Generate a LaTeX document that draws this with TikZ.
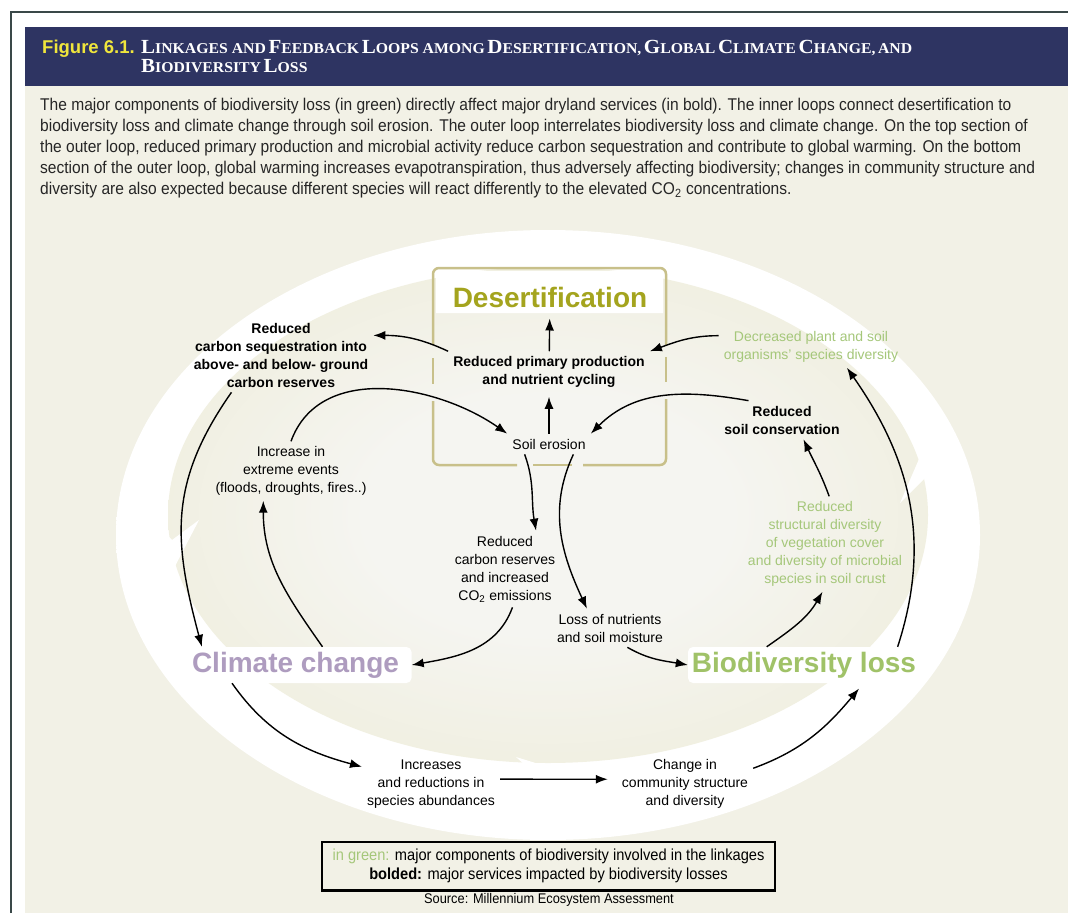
\documentclass[tikz,border=0pt]{standalone}
\usepackage{fontspec}
\setmainfont{Liberation Sans}
\newfontfamily\capfont[FakeStretch=0.915]{Liberation Sans}
\newfontfamily\ttlfont[FakeStretch=1.05]{Liberation Serif}
\usepackage{tikz}
\usetikzlibrary{arrows.meta}

\definecolor{bg}{HTML}{F2F1E6}
\definecolor{inbg}{HTML}{EEECD8}
\definecolor{inc}{HTML}{F5F5F1}
\definecolor{framec}{HTML}{3A4848}
\definecolor{navy}{HTML}{2E3462}
\definecolor{yel}{HTML}{F0E63C}
\definecolor{olive}{HTML}{A4A41E}
\definecolor{boxc}{HTML}{C8C08A}
\definecolor{lav}{HTML}{AE9CBF}
\definecolor{grn}{HTML}{A0C268}
\definecolor{lgrn}{HTML}{A5C77A}

\newcommand{\capL}[1]{{\fontsize{20}{22}\selectfont #1}}
\newcommand{\capS}[1]{{\fontsize{15}{22}\selectfont #1}}

% soft loop fill
\pgfdeclareradialshading{loopglow}{\pgfpoint{0bp}{0bp}}{color(0bp)=(white); color(46.5bp)=(white); color(50bp)=(bg)}
\pgfdeclareradialshading{loopin}{\pgfpoint{0bp}{0bp}}{color(0bp)=(inc); color(12bp)=(inc); color(34bp)=(inbg); color(47bp)=(inbg); color(50bp)=(white)}

\begin{document}
\begin{tikzpicture}[x=1pt,y=1pt]
    \tikzset{lbl/.style = {align=center, inner sep=5pt, font=\fontsize{14}{18}\selectfont}}
    \tikzset{blbl/.style = {lbl, font=\fontsize{14}{18}\selectfont\bfseries}}
    \tikzset{glbl/.style = {lbl, text=lgrn}}
    \tikzset{bigbox/.style = {fill=white, rounded corners=5pt, minimum width=232, minimum height=36, inner sep=0pt, font=\fontsize{28}{30}\selectfont\bfseries}}
    \tikzset{edge/.style = {->, > = {Latex[length=12pt,width=9pt]}, line width=1.4pt}}
    \tikzset{chev/.style = {fill=white}}
    \tikzset{boxline/.style = {draw=boxc, line width=2.5pt, rounded corners=6pt}}
    % page and frame
    \useasboundingbox (0,0) rectangle (1068,-913);
    \fill[white] (0,0) rectangle (1068,-913);
    \draw[framec, line width=2pt] (11,-913) -- (11,-12) -- (1068,-12);
    \fill[navy] (25,-27) rectangle (1068,-86);
    \fill[bg] (25,-86) rectangle (1068,-913);

    % title and caption
    \node[anchor=base west, inner sep=0pt, text=yel, font=\fontsize{18.5}{20}\selectfont\bfseries] (fig) at (42,-53) {Figure 6.1.};
    \node[anchor=base west, inner sep=0pt, text=white, font=\ttlfont\bfseries] (ttl) at (141,-53)
        {\capL{L}\capS{INKAGES AND} \capL{F}\capS{EEDBACK} \capL{L}\capS{OOPS AMONG} \capL{D}\capS{ESERTIFICATION,} \capL{G}\capS{LOBAL} \capL{C}\capS{LIMATE} \capL{C}\capS{HANGE,} \capS{AND}};
    \node[anchor=base west, inner sep=0pt, text=white, font=\ttlfont\bfseries] (ttl2) at (141,-72)
        {\capL{B}\capS{IODIVERSITY} \capL{L}\capS{OSS}};
    \node[anchor=north west, align=left, inner sep=0pt, text=black!85, font=\capfont\fontsize{17}{21}\selectfont] (cap) at (40,-98)
        {The major components of biodiversity loss (in green) directly affect major dryland services (in bold). The inner loops connect desertification to\\
         biodiversity loss and climate change through soil erosion. The outer loop interrelates biodiversity loss and climate change. On the top section of\\
         the outer loop, reduced primary production and microbial activity reduce carbon sequestration and contribute to global warming. On the bottom\\
         section of the outer loop, global warming increases evapotranspiration, thus adversely affecting biodiversity; changes in community structure and\\
         diversity are also expected because different species will react differently to the elevated CO\textsubscript{2} concentrations.};

    % outer loop
    \shade[shading=loopglow] (548,-535) ellipse [x radius=432, y radius=305];
    \shade[shading=loopin] (548,-515) ellipse [x radius=380, y radius=248];
    \fill[chev] (146,-512) -- (172,-572) -- (199,-520) -- (172,-540) -- cycle;
    \fill[chev] (900,-503) -- (922,-452) -- (952,-503) -- (925,-478) -- cycle;
    \fill[chev] (516,-757) -- (594,-781) -- (516,-805) -- (543,-781) -- cycle;

    % desertification box
    \fill[white] (436,-313) [rounded corners=5pt] -- (436,-271) -- (663,-271) [sharp corners] -- (663,-313) -- cycle;
    \draw[boxline] (433,-345) -- (433,-268) -- (666,-268) -- (666,-345);
    \draw[boxline] (433,-358) -- (433,-384);
    \draw[boxline] (666,-357) -- (666,-382);
    \draw[boxline] (433,-401) -- (433,-465) -- (517,-465);
    \draw[boxline] (533,-465) -- (572,-465);
    \draw[boxline] (583,-465) -- (666,-465) -- (666,-399);

    % vertices
    \node[inner sep=0pt, text=olive, font=\fontsize{28}{30}\selectfont\bfseries] (desert) at (550,-297) {Desertification};
    \node[blbl] (prim) at (549,-372) {Reduced primary production\\and nutrient cycling};
    \node[lbl] (soil) at (549,-444) {Soil erosion};
    \node[blbl] (carbseq) at (281,-355) {Reduced\\carbon sequestration into\\above- and below- ground\\carbon reserves};
    \node[lbl] (extreme) at (291,-471) {Increase in\\extreme events\\(floods, droughts, fires..)};
    \node[lbl] (carbres) at (505,-569) {Reduced\\carbon reserves\\and increased\\CO\textsubscript{2} emissions};
    \node[lbl] (nutr) at (610,-628) {Loss of nutrients\\and soil moisture};
    \node[bigbox, text=lav] (climate) at (295.5,-665) {Climate change};
    \node[bigbox, text=grn] (biodiv) at (804,-665) {Biodiversity loss};
    \node[glbl] (struct) at (825,-544) {Reduced\\structural diversity\\of vegetation cover\\and diversity of microbial\\species in soil crust};
    \node[blbl] (cons) at (782,-420) {Reduced\\soil conservation};
    \node[glbl] (decr) at (811,-347) {Decreased plant and soil\\organisms' species diversity};
    \node[lbl] (incr) at (431,-784) {Increases\\and reductions in\\species abundances};
    \node[lbl] (comm) at (685,-784) {Change in\\community structure\\and diversity};

    % links
    \path[edge] (prim) edge[shorten >=11pt] (desert)
        (soil) edge[shorten >=4pt] (prim)
        (prim.north west) edge[out=155,in=0] (carbseq.12)
        (extreme.north) edge[out=70,in=145] (soil.north west)
        (carbseq.217) edge[out=235,in=105,looseness=1.1] (climate.169)
        (climate.34) edge[out=125,in=-90] (extreme.227)
        (soil.-157) edge[out=-70,in=100] (carbres.51)
        (carbres.-79) edge[out=-110,in=10] (climate.east)
        (soil.-23) edge[out=-115,in=115] (nutr.140)
        (nutr.-48) edge[out=-30,in=170] (biodiv.west)
        (biodiv.154) edge[out=35,in=-120] (struct.-93)
        (struct.85) edge[out=110,in=-65] (cons.-42)
        (cons.150) edge[out=170,in=45] (soil.north east)
        (decr.173) edge[out=180,in=20] (prim.north east)
        (biodiv.11) edge[out=72,in=-55] (decr.-30)
        (climate.-164) edge[out=-55,in=165] (incr.166)
        (incr.4) edge[shorten >=9pt] (comm.176)
        (comm.13) edge[out=20,in=-130,shorten >=7pt] (biodiv.-17);

    % key
    \node[draw, line width=1.2pt, fill=bg, minimum width=453, minimum height=48, align=center, font=\capfont\fontsize{16}{19}\selectfont] (key) at (548.5,-866)
        {\textcolor{lgrn}{in green:} major components of biodiversity involved in the linkages\\
         \textbf{bolded:} major services impacted by biodiversity losses};
    \draw[line width=2pt] (key.south west) -- (key.south east);
    \node[font=\capfont\fontsize{14}{16}\selectfont] (src) at (549,-900) {Source: Millennium Ecosystem Assessment};
\end{tikzpicture}
\end{document}
